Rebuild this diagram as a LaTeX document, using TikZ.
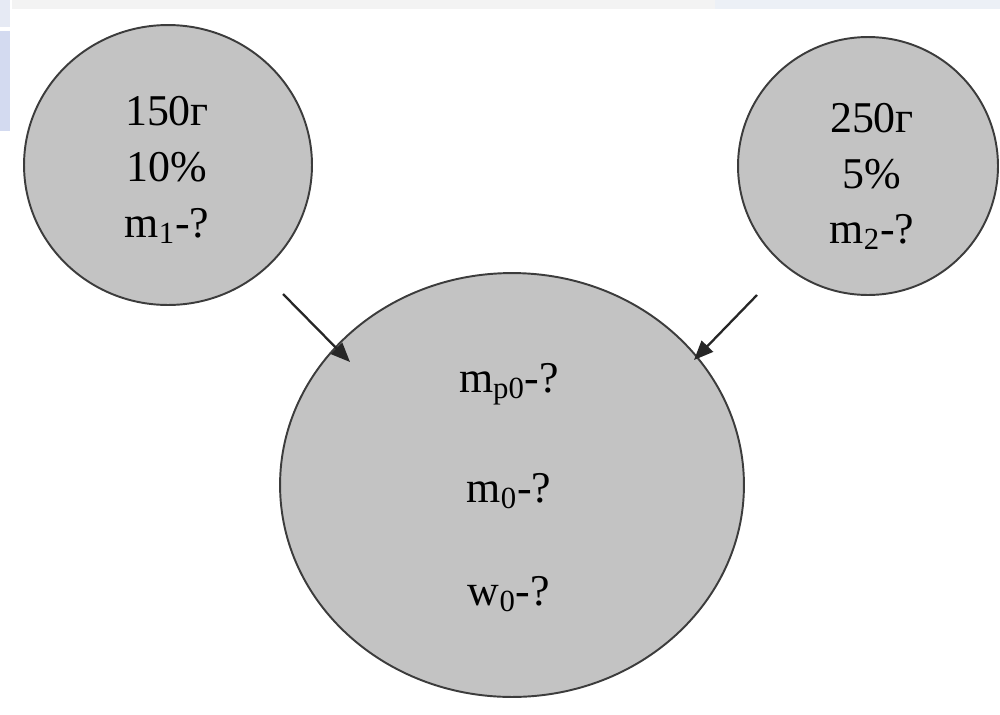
\documentclass[tikz,border=0pt]{standalone}
\usepackage{fontspec}
\setmainfont{Liberation Serif}
\usetikzlibrary{shapes.geometric,arrows.meta}
\definecolor{bubblefill}{RGB}{195,195,195}
\definecolor{bubbleline}{RGB}{60,60,60}
\definecolor{bandgray}{RGB}{243,243,243}
\definecolor{bandblue}{RGB}{236,240,246}
\definecolor{sidelav}{RGB}{211,218,240}
\definecolor{sidelight}{RGB}{230,234,244}
\tikzset{
  bubble/.style={ellipse, draw=bubbleline, line width=1.1pt, fill=bubblefill, inner sep=0pt},
  txt/.style={anchor=base, inner sep=0pt, font=\fontsize{25}{30}\selectfont, text=black},
  feed/.style={draw=black!85, line width=1.3pt, -{Triangle[length=11pt,width=9pt]}},
}
\begin{document}
\begin{tikzpicture}[x=0.02cm,y=-0.02cm]
\useasboundingbox (0,0) rectangle (1000,714);
% screenshot margins
\fill[bandgray] (12,0) rectangle (715,9);
\fill[bandblue] (715,0) rectangle (1000,9);
\fill[sidelight] (0,0) rectangle (10,27);
\fill[sidelav] (0,31) rectangle (10,131);
% circles
\node[bubble, minimum width=5.76cm, minimum height=5.6cm] (left) at (168,165) {};
\node[bubble, minimum width=5.2cm, minimum height=5.16cm] (right) at (868,166) {};
\node[bubble, minimum width=9.28cm, minimum height=8.48cm] (big) at (512,485) {};
% texts
\node[txt] (l1) at (167,125) {150г};
\node[txt] (l2) at (167,181) {10\%};
\node[txt] (l3) at (167,237) {m\textsubscript{1}-?};
\node[txt] (r1) at (872,132) {250г};
\node[txt] (r2) at (872,188) {5\%};
\node[txt] (r3) at (872,243) {m\textsubscript{2}-?};
\node[txt] (c1) at (509,392) {m\textsubscript{p0}-?};
\node[txt] (c2) at (509,502) {m\textsubscript{0}-?};
\node[txt] (c3) at (509,605) {w\textsubscript{0}-?};
% arrows
\coordinate (ls) at (283,294);
\coordinate (le) at (350,362);
\coordinate (rs) at (757,295);
\coordinate (re) at (694,360);
\draw[feed] (ls) -- (le);
\draw[feed] (rs) -- (re);
\end{tikzpicture}
\end{document}
